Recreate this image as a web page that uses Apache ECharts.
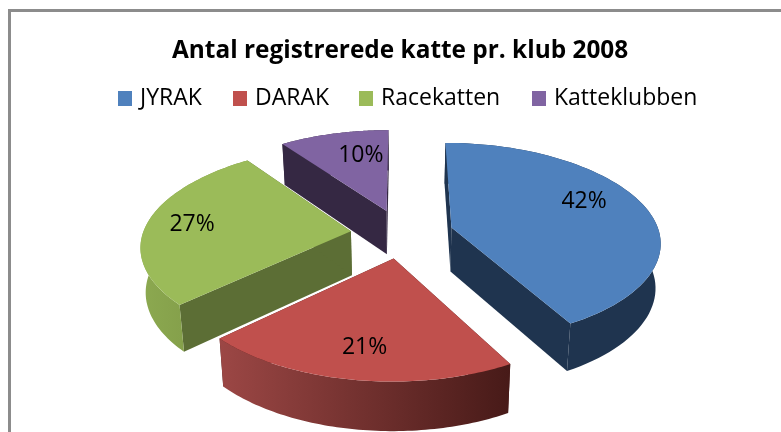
<!DOCTYPE html>
<html>
<head>
<meta charset="utf-8">
<style>html,body{margin:0;padding:0;background:#fff}#c{width:781px;height:432px}</style>
<script src="https://cdn.jsdelivr.net/npm/echarts@6/dist/echarts.min.js"></script>
</head>
<body>
<div id="c"></div>
<script>
var titleText = 'Antal registrerede katte pr. klub 2008';
var categories = ['JYRAK', 'DARAK', 'Racekatten', 'Katteklubben'];
var shares = [42, 21, 27, 10];
var topColors = ['#4F81BD', '#C0504D', '#9BBB59', '#8064A2'];
var sideColors = ['#1F344F', '#4A1C1A', '#5C6E35', '#352843'];
var wallStart = ['#1F344F', '#9C4745', '#8CA950', '#352843'];
var wallEnd = ['#1F344F', '#471A18', '#7A9343', '#352843'];
var labelNudge = [[-12, -8], [0, 2], [-6, 0], [15, 4]];
var legendLeft = [113, 228, 354, 527];

var P = {cx: 402, cy: 233.5, A: 206, B: 98, k: 0.14, explode: 0.25, bulge: 0.01, labelR: 0.75};
var total = shares.reduce(function (a, b) { return a + b; }, 0);

function project(x, y) {
  var s = 1 / (1 - P.k * y);
  return [P.cx + P.A * x * s, P.cy + P.B * y * s];
}
function lower(p) {
  return [P.cx + (p[0] - P.cx) * 0.98, p[1] + 41 + 0.0365 * (p[1] - 146)];
}
function dir(t) {
  var sn = Math.sin(t), f = 1 + P.bulge * Math.pow(sn, 4);
  return [sn * f, -Math.cos(t)];
}
function renderSlice(idx) {
  return function () {
    var before = 0;
    for (var i = 0; i < idx; i++) before += shares[i];
    var a0 = before / total * 2 * Math.PI;
    var a1 = (before + shares[idx]) / total * 2 * Math.PI;
    var mid = (a0 + a1) / 2;
    var ox = Math.sin(mid) * P.explode, oy = -Math.cos(mid) * P.explode;
    var apex = project(ox, oy), arc = [];
    for (var n = 0; n <= 72; n++) {
      var d = dir(a0 + (a1 - a0) * n / 72);
      arc.push(project(ox + d[0], oy + d[1]));
    }
    var low = arc.map(lower);
    var wall = arc.concat(low.slice().reverse());
    var first = arc[0], last = arc[arc.length - 1];
    var grad = new echarts.graphic.LinearGradient(0, 0, 1, 0, [
      {offset: 0, color: wallStart[idx]}, {offset: 1, color: wallEnd[idx]}
    ]);
    var mk = function (pts, fill) {
      return {type: 'polygon', shape: {points: pts}, style: {fill: fill}};
    };
    var lp = dir(mid);
    var lpos = project(ox + lp[0] * P.labelR, oy + lp[1] * P.labelR);
    return {
      type: 'group',
      children: [
        mk([apex, first, lower(first), lower(apex)], sideColors[idx]),
        mk([apex, last, lower(last), lower(apex)], sideColors[idx]),
        mk(wall, grad),
        mk([apex].concat(arc), topColors[idx]),
        {type: 'text', style: {
          x: lpos[0] + labelNudge[idx][0], y: lpos[1] + labelNudge[idx][1],
          text: shares[idx] + '%', align: 'center', verticalAlign: 'middle',
          font: '23px "Open Sans"', fill: '#000'
        }}
      ]
    };
  };
}
var chart = echarts.init(document.getElementById('c'), null, {renderer: 'canvas'});
chart.setOption({
  animation: false,
  backgroundColor: '#fff',
  title: {text: titleText, left: 167, top: 34,
    textStyle: {fontFamily: 'Open Sans', fontSize: 24.4, fontWeight: 'bold', color: '#000'}},
  legend: categories.map(function (name, i) {
    return {
      data: [name], left: legendLeft[i], top: 82, itemWidth: 14, itemHeight: 15,
      icon: 'rect', selectedMode: false,
      textStyle: {fontFamily: 'Open Sans', fontSize: 23, color: '#000', padding: [0, 0, 0, 3]}
    };
  }),
  graphic: [{type: 'rect', z: -1, shape: {x: 9.5, y: 10.5, width: 900, height: 600},
    style: {fill: '#fff', stroke: '#8C8C8C', lineWidth: 3}}],
  series: categories.map(function (name, i) {
    return {
      type: 'custom', name: name, coordinateSystem: 'none', silent: true,
      itemStyle: {color: topColors[i]},
      data: [shares[i]], renderItem: renderSlice(i)
    };
  })
});
</script>
</body>
</html>
